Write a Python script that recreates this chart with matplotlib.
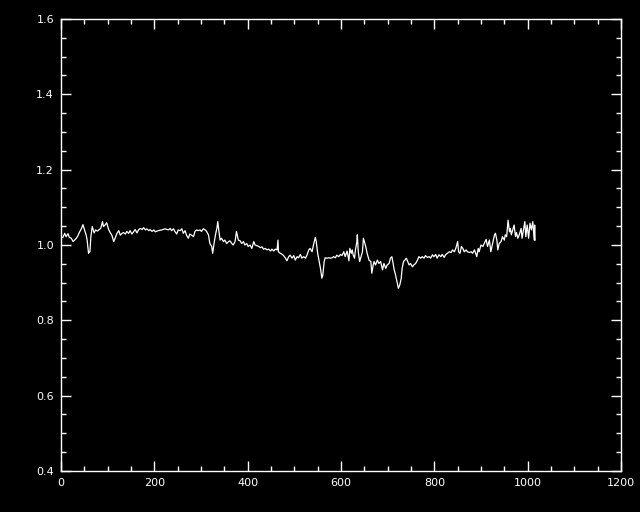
import matplotlib
matplotlib.use("Agg")
import matplotlib.pyplot as plt
from matplotlib.ticker import MultipleLocator, FormatStrFormatter

# values
x = [0, 4, 8, 11, 15, 18, 22, 26, 29, 33, 36, 40, 44, 47, 51, 54, 56, 59, 62, 64,
     67, 71, 74, 78, 81, 85, 89, 91, 95, 98, 102, 106, 109, 113, 116, 120, 124, 127,
     131, 134, 138, 141, 145, 148, 152, 156, 159, 163, 166, 170, 174, 177, 181, 184,
     188, 191, 195, 199, 202,
     208, 216, 223, 230, 234, 237, 241, 244, 248, 251, 255, 259, 262, 266, 269, 273,
     276, 280, 284, 287, 291, 294, 298, 301, 305, 309, 312, 316, 319, 323, 325, 328,
     331, 334, 336, 338, 341, 344, 348, 351, 355, 359, 362, 366, 369, 373, 376, 380,
     384, 387, 391, 394, 398, 401, 405, 409,
     413, 416, 420, 424, 427, 431, 434, 438, 441, 445, 449, 452, 456, 459, 463, 465,
     466, 470, 474, 477, 481, 484, 488, 491, 495, 499, 502, 506, 509, 513, 516, 520,
     524, 527, 531, 534, 538, 541, 545, 547, 550, 552, 556, 559, 561, 564, 566, 570,
     574, 577, 581, 584, 588, 591, 595, 599, 602, 606, 609, 613, 617,
     619, 622, 624, 626, 629, 631, 634, 635, 637, 640, 643, 646, 648, 650, 653, 656,
     660, 664, 666, 669, 671, 674, 678, 681, 685, 689, 692, 696, 699, 703, 706, 709,
     711, 714, 717, 720, 723, 726, 729, 731, 734, 737, 740, 743, 746, 749, 753, 756,
     760, 764, 767, 771, 774, 778, 781, 785, 789, 792, 796, 799, 803, 806, 810, 814,
     817, 821, 824, 828,
     832, 836, 839, 843, 846, 850, 852, 855, 858, 861, 864, 868, 871, 875, 879, 882,
     886, 889, 891, 894, 896, 900, 904, 907, 911, 914, 918, 921, 925, 929, 931, 934,
     936, 939, 943, 946, 950, 952, 955, 958, 961, 963, 965, 968, 971, 974, 976, 979,
     982, 986, 988, 991, 994, 996, 999, 1002, 1005, 1008, 1011, 1014, 1015, 1016]

y = [1.02, 1.02, 1.031, 1.022, 1.03, 1.02, 1.018, 1.009, 1.013, 1.018, 1.024, 1.035,
     1.044, 1.054, 1.038, 1.026, 1.013, 0.978, 0.983, 1.022, 1.049, 1.032, 1.04, 1.037,
     1.04, 1.044, 1.062, 1.049, 1.054, 1.059, 1.041, 1.032, 1.026, 1.009, 1.018, 1.031,
     1.038, 1.026, 1.031, 1.033, 1.029, 1.036, 1.031, 1.038, 1.029, 1.036, 1.041, 1.032,
     1.04, 1.044, 1.041, 1.046, 1.04, 1.043, 1.038, 1.041, 1.036, 1.04, 1.035,
     1.038, 1.04, 1.043, 1.04, 1.044, 1.038, 1.043, 1.036, 1.029, 1.04, 1.038, 1.043,
     1.031, 1.038, 1.026, 1.018, 1.029, 1.026, 1.022, 1.036, 1.04, 1.038, 1.04, 1.036,
     1.043, 1.04, 1.036, 1.027, 1.004, 0.996, 0.978, 1.004, 1.027, 1.044, 1.062, 1.04,
     1.013, 1.018, 1.009, 1.013, 1.004, 1.009, 1.011, 1.004, 1.0, 1.009, 1.036, 1.013,
     1.011, 1.004, 1.009, 1.0, 1.004, 0.996, 1.0, 0.991,
     1.009, 1.0, 0.998, 0.996, 0.993, 0.995, 0.989, 0.991, 0.987, 0.989, 0.984, 0.989,
     0.984, 0.989, 0.987, 1.013, 0.982, 0.978, 0.975, 0.972, 0.965, 0.958, 0.969, 0.973,
     0.965, 0.972, 0.96, 0.969, 0.966, 0.975, 0.965, 0.969, 0.965, 0.973, 0.987, 0.991,
     0.982, 1.0, 1.02, 1.009, 0.978, 0.965, 0.938, 0.912, 0.92, 0.956, 0.966, 0.965,
     0.966, 0.965, 0.966, 0.969, 0.966, 0.973, 0.969, 0.975, 0.972, 0.982, 0.969, 0.984,
     0.958,
     0.991, 0.978, 0.987, 0.974, 0.965, 0.987, 1.009, 1.027, 0.982, 0.956, 0.969, 0.982,
     1.018, 1.009, 0.996, 0.978, 0.96, 0.956, 0.925, 0.947, 0.956, 0.947, 0.96, 0.951,
     0.956, 0.934, 0.951, 0.938, 0.947, 0.951, 0.965, 0.969, 0.956, 0.934, 0.92, 0.903,
     0.885, 0.894, 0.911, 0.938, 0.956, 0.96, 0.965, 0.956, 0.947, 0.951, 0.942, 0.947,
     0.951, 0.96, 0.969, 0.965, 0.969, 0.965, 0.972, 0.967, 0.969, 0.965, 0.974, 0.969,
     0.975, 0.965, 0.974, 0.969, 0.975, 0.967, 0.974, 0.978,
     0.982, 0.98, 0.987, 0.982, 0.991, 1.009, 0.982, 0.978, 0.996, 0.991, 0.982, 0.987,
     0.982, 0.98, 0.982, 0.978, 0.987, 0.976, 0.969, 0.991, 0.982, 1.0, 0.996, 1.004,
     1.015, 0.996, 1.013, 0.982, 1.004, 1.027, 1.031, 1.013, 0.987, 1.004, 1.009, 1.022,
     1.013, 1.027, 1.022, 1.066, 1.035, 1.044, 1.027, 1.04, 1.053, 1.022, 1.033, 1.018,
     1.027, 1.044, 1.018, 1.04, 1.062, 1.022, 1.053, 1.018, 1.058, 1.04, 1.062, 1.013,
     1.053, 1.013]

xlim = (0, 1200)
ylim = (0.4, 1.6)

fig = plt.figure(figsize=(6.4, 5.12), dpi=100, facecolor="black")
ax = fig.add_axes([0.0953, 0.0801, 0.875, 0.8828])
ax.set_facecolor("black")

ax.plot(x, y, color="white", linewidth=0.9)

ax.set_xlim(*xlim)
ax.set_ylim(*ylim)
ax.xaxis.set_major_locator(MultipleLocator(200))
ax.xaxis.set_minor_locator(MultipleLocator(50))
ax.yaxis.set_major_locator(MultipleLocator(0.2))
ax.yaxis.set_minor_locator(MultipleLocator(0.05))
ax.yaxis.set_major_formatter(FormatStrFormatter("%.1f"))

for s in ax.spines.values():
    s.set_color("white")
    s.set_linewidth(1.0)

ax.tick_params(which="both", direction="in", top=True, right=True,
               colors="white", labelcolor="white", labelsize=8, width=1.0)
ax.tick_params(which="major", length=7, pad=5)
ax.tick_params(which="minor", length=3.6)

fig.savefig("out.png", dpi=100, facecolor="black")
